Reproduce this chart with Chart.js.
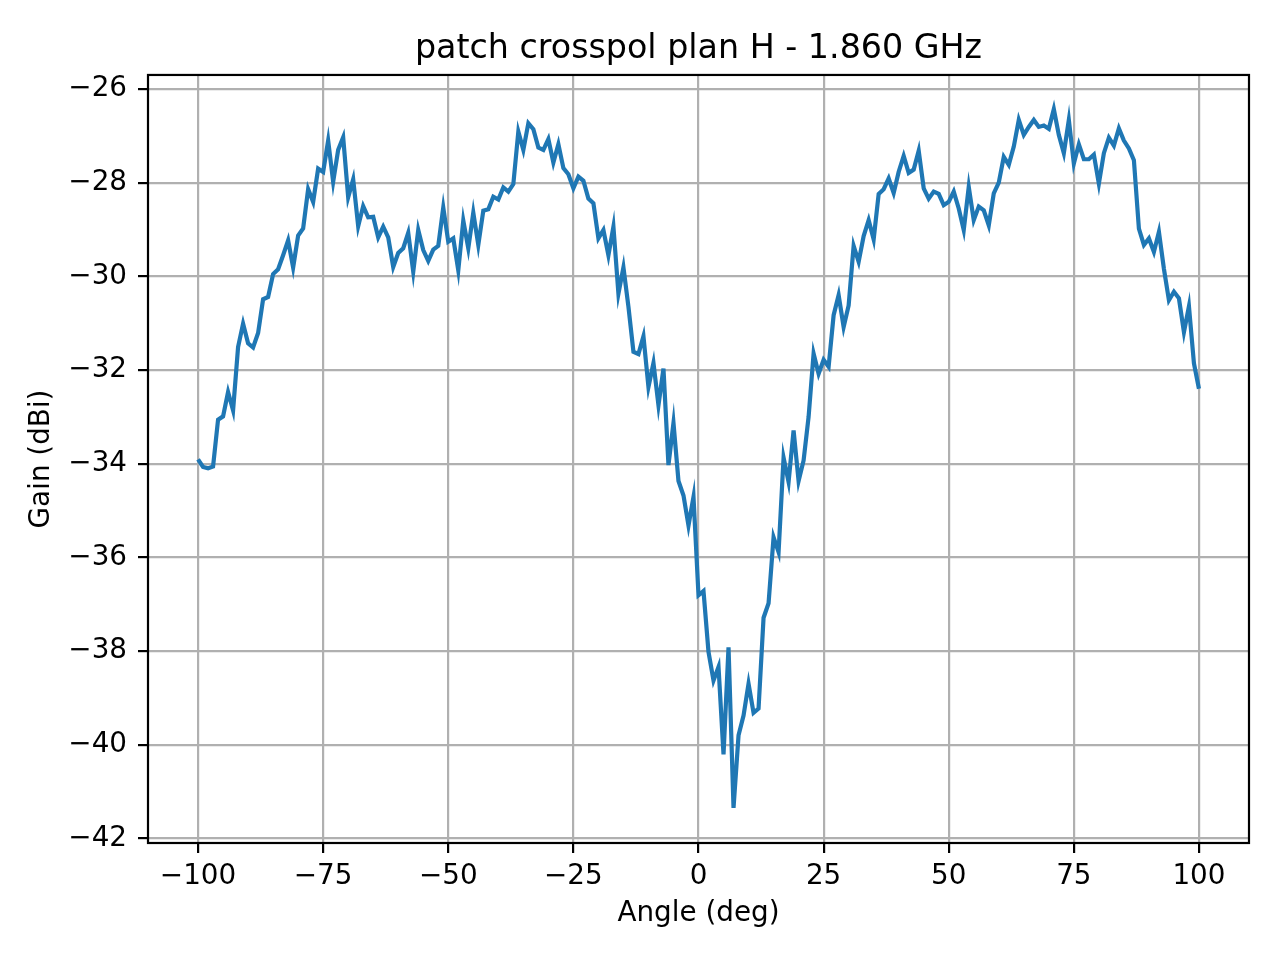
<!DOCTYPE html>
<html>
<head>
<meta charset="utf-8">
<title>patch crosspol plan H - 1.860 GHz</title>
<script src="https://cdn.jsdelivr.net/npm/chart.js@4.4.1/dist/chart.umd.min.js"></script>
<style>
    html, body { margin: 0; padding: 0; background: #ffffff; }
    #chart-wrap { width: 1280px; height: 960px; }
</style>
</head>
<body>
<div id="chart-wrap">
    <canvas id="gain-chart" width="1280" height="960"></canvas>
</div>
<script>
// angles measured (deg)
const angles = [
    -100, -99, -98, -97, -96, -95, -94, -93, -92, -91,
    -90, -89, -88, -87, -86, -85, -84, -83, -82, -81,
    -80, -79, -78, -77, -76, -75, -74, -73, -72, -71,
    -70, -69, -68, -67, -66, -65, -64, -63, -62, -61,
    -60, -59, -58, -57, -56, -55, -54, -53, -52, -51,
    -50, -49, -48, -47, -46, -45, -44, -43, -42, -41,
    -40, -39, -38, -37, -36, -35, -34, -33, -32, -31,
    -30, -29, -28, -27, -26, -25, -24, -23, -22, -21,
    -20, -19, -18, -17, -16, -15, -14, -13, -12, -11,
    -10, -9, -8, -7, -6, -5, -4, -3, -2, -1,
    0, 1, 2, 3, 4, 5, 6, 7, 8, 9,
    10, 11, 12, 13, 14, 15, 16, 17, 18, 19,
    20, 21, 22, 23, 24, 25, 26, 27, 28, 29,
    30, 31, 32, 33, 34, 35, 36, 37, 38, 39,
    40, 41, 42, 43, 44, 45, 46, 47, 48, 49,
    50, 51, 52, 53, 54, 55, 56, 57, 58, 59,
    60, 61, 62, 63, 64, 65, 66, 67, 68, 69,
    70, 71, 72, 73, 74, 75, 76, 77, 78, 79,
    80, 81, 82, 83, 84, 85, 86, 87, 88, 89,
    90, 91, 92, 93, 94, 95, 96, 97, 98, 99,
    100
];

// gain (dBi)
const gain = [
    -33.91, -34.07, -34.10, -34.06, -33.06, -32.99, -32.47, -32.86, -31.51, -31.01,
    -31.43, -31.52, -31.21, -30.49, -30.44, -29.95, -29.85, -29.55, -29.23, -29.81,
    -29.13, -28.98, -28.14, -28.41, -27.70, -27.77, -27.10, -27.98, -27.30, -27.03,
    -28.31, -27.93, -28.93, -28.50, -28.74, -28.73, -29.17, -28.94, -29.17, -29.80,
    -29.50, -29.40, -29.07, -29.90, -29.01, -29.44, -29.67, -29.43, -29.35, -28.53,
    -29.26, -29.19, -29.87, -28.81, -29.40, -28.64, -29.33, -28.60, -28.57, -28.30,
    -28.36, -28.10, -28.19, -28.03, -26.91, -27.30, -26.73, -26.86, -27.25, -27.30,
    -27.07, -27.57, -27.18, -27.69, -27.82, -28.12, -27.87, -27.96, -28.34, -28.44,
    -29.19, -29.01, -29.55, -28.94, -30.37, -29.81, -30.65, -31.61, -31.66, -31.28,
    -32.36, -31.85, -32.75, -31.97, -34.03, -33.13, -34.37, -34.68, -35.32, -34.71,
    -36.81, -36.72, -38.02, -38.63, -38.34, -40.21, -37.92, -41.35, -39.80, -39.38,
    -38.70, -39.32, -39.23, -37.29, -36.98, -35.57, -35.89, -33.87, -34.39, -33.29,
    -34.37, -33.93, -33.00, -31.65, -32.08, -31.78, -31.93, -30.83, -30.40, -31.08,
    -30.62, -29.35, -29.69, -29.14, -28.80, -29.21, -28.24, -28.14, -27.91, -28.22,
    -27.77, -27.43, -27.79, -27.72, -27.32, -28.12, -28.34, -28.19, -28.24, -28.48,
    -28.41, -28.19, -28.55, -29.01, -28.09, -28.80, -28.51, -28.59, -28.91, -28.23,
    -28.00, -27.45, -27.62, -27.23, -26.66, -26.98, -26.81, -26.66, -26.81, -26.78,
    -26.85, -26.43, -26.98, -27.37, -26.66, -27.59, -27.18, -27.50, -27.50, -27.40,
    -28.02, -27.37, -27.04, -27.21, -26.84, -27.10, -27.27, -27.52, -28.98, -29.33,
    -29.19, -29.48, -29.05, -29.84, -30.51, -30.33, -30.47, -31.19, -30.64, -31.86,
    -32.40
];

const xTicks = [-100, -75, -50, -25, 0, 25, 50, 75, 100];
const yTicks = [-42, -40, -38, -36, -34, -32, -30, -28, -26];

const FONT = "'DejaVu Sans', 'Liberation Sans', sans-serif";

function minusSign(v) {
    return String(v).replace('-', '\u2212');
}

// spines on all four sides, drawn over the curve like matplotlib does
const frameBox = {
    id: 'frameBox',
    afterDraw(chart) {
        const { ctx, chartArea } = chart;
        ctx.save();
        ctx.strokeStyle = '#000000';
        ctx.lineWidth = 2.2;
        ctx.strokeRect(chartArea.left, chartArea.top,
            chartArea.right - chartArea.left, chartArea.bottom - chartArea.top);
        ctx.restore();
    }
};

const points = angles.map((a, i) => ({ x: a, y: gain[i] }));

const ctx = document.getElementById('gain-chart').getContext('2d');
const gainChart = new Chart(ctx, {
    type: 'line',
    data: {
        datasets: [{
            label: 'Gain',
            data: points,
            borderColor: '#1f77b4',
            borderWidth: 4.2,
            pointRadius: 0,
            tension: 0,
            fill: false
        }]
    },
    options: {
        responsive: false,
        animation: false,
        devicePixelRatio: 1,
        layout: {
            padding: { left: 0, right: 31, top: 0, bottom: 0 }
        },
        plugins: {
            legend: { display: false },
            tooltip: { enabled: false },
            title: {
                display: true,
                fullSize: false,   // centre over the axes, not the canvas
                text: 'patch crosspol plan H - 1.860 GHz',
                color: '#000000',
                font: { family: FONT, size: 33.3, weight: 'normal' },
                padding: { top: 29, bottom: 6 }
            }
        },
        scales: {
            x: {
                type: 'linear',
                min: -110,
                max: 110,
                afterBuildTicks: scale => {
                    scale.ticks = xTicks.map(v => ({ value: v }));
                },
                afterFit: scale => {
                    scale.height = 117;
                },
                ticks: {
                    color: '#000000',
                    font: { family: FONT, size: 27.8 },
                    padding: 7,
                    maxRotation: 0,
                    autoSkip: false,
                    callback: v => minusSign(v)
                },
                grid: {
                    color: '#b0b0b0',
                    lineWidth: 2.2,
                    tickColor: '#000000',
                    tickLength: 10,
                    tickWidth: 2.2
                },
                border: { display: false },
                title: {
                    display: true,
                    text: 'Angle (deg)',
                    color: '#000000',
                    font: { family: FONT, size: 27.8 },
                    padding: { top: 0, bottom: 30 }
                }
            },
            y: {
                type: 'linear',
                min: -42.1,
                max: -25.7,
                afterBuildTicks: scale => {
                    scale.ticks = yTicks.map(v => ({ value: v }));
                },
                afterFit: scale => {
                    scale.width = 148;
                },
                ticks: {
                    color: '#000000',
                    font: { family: FONT, size: 27.8 },
                    padding: 11,
                    autoSkip: false,
                    callback: v => minusSign(v)
                },
                grid: {
                    color: '#b0b0b0',
                    lineWidth: 2.2,
                    tickColor: '#000000',
                    tickLength: 10,
                    tickWidth: 2.2
                },
                border: { display: false },
                title: {
                    display: true,
                    text: 'Gain (dBi)',
                    color: '#000000',
                    font: { family: FONT, size: 27.8 },
                    padding: { top: 25, bottom: 0 }
                }
            }
        }
    },
    plugins: [frameBox]
});
</script>
</body>
</html>
